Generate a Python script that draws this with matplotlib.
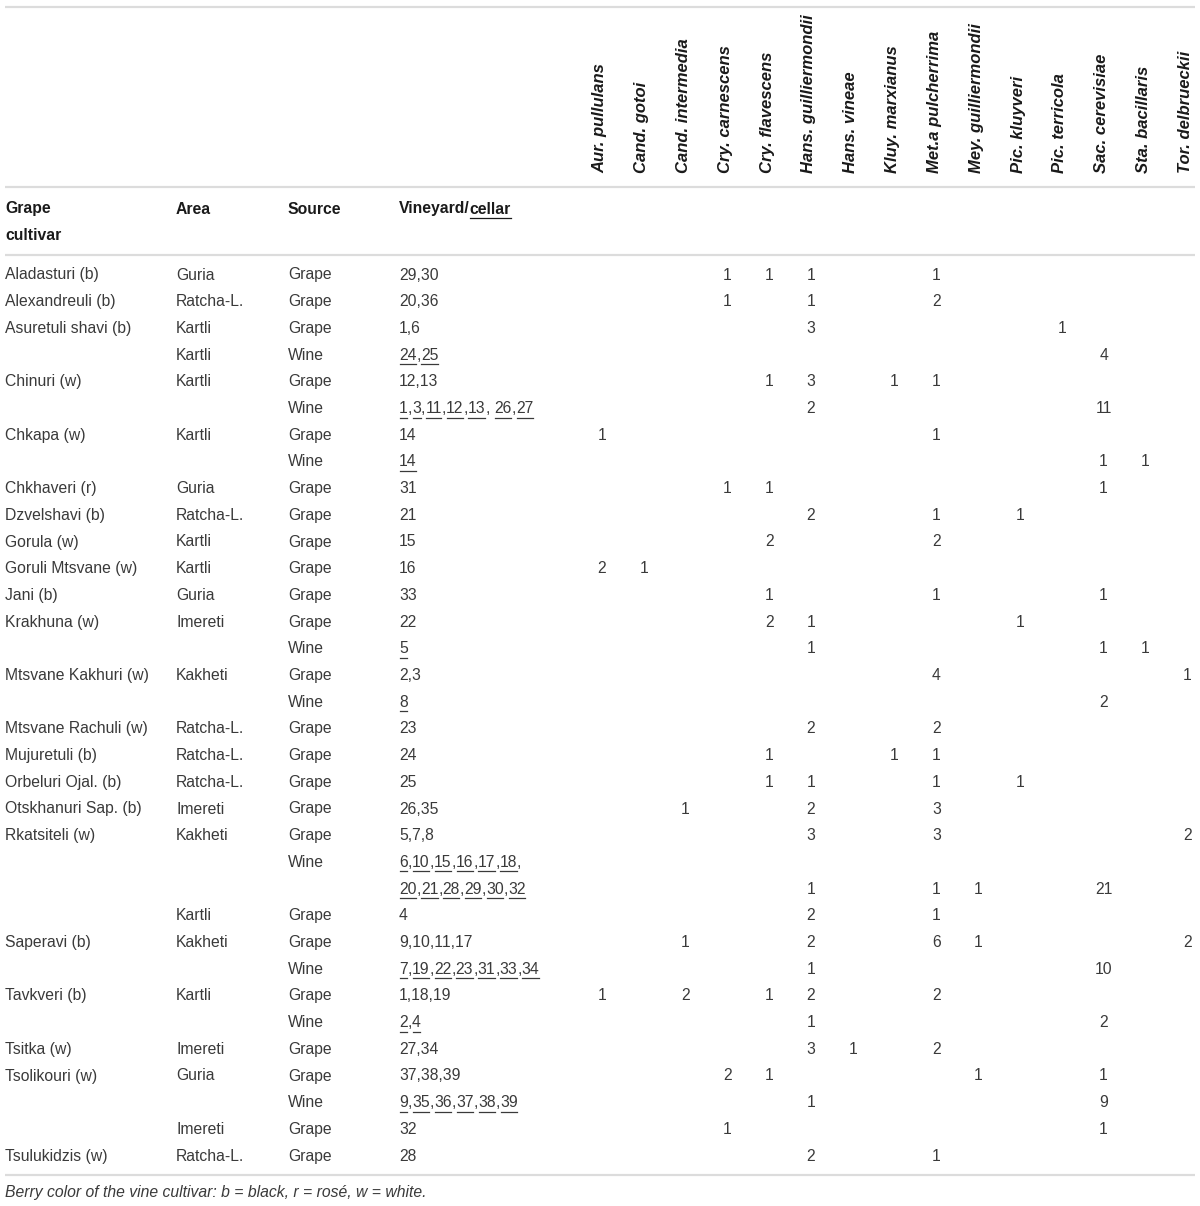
import re
import matplotlib
matplotlib.use("Agg")
import matplotlib.pyplot as plt

plt.rcParams['font.family'] = ['Liberation Sans', 'DejaVu Sans']

species = ["Aur. pullulans", "Cand. gotoi", "Cand. intermedia", "Cry. carnescens",
           "Cry. flavescens", "Hans. guilliermondii", "Hans. vineae", "Kluy. marxianus",
           "Met.a pulcherrima", "Mey. guilliermondii", "Pic. kluyveri", "Pic. terricola",
           "Sac. cerevisiae", "Sta. bacillaris", "Tor. delbrueckii"]

cultivar = ["Aladasturi (b)", "Alexandreuli (b)", "Asuretuli shavi (b)", "", "Chinuri (w)", "",
            "Chkapa (w)", "", "Chkhaveri (r)", "Dzvelshavi (b)", "Gorula (w)", "Goruli Mtsvane (w)",
            "Jani (b)", "Krakhuna (w)", "", "Mtsvane Kakhuri (w)", "", "Mtsvane Rachuli (w)",
            "Mujuretuli (b)", "Orbeluri Ojal. (b)", "Otskhanuri Sap. (b)", "Rkatsiteli (w)", "", "",
            "", "Saperavi (b)", "", "Tavkveri (b)", "", "Tsitka (w)", "Tsolikouri (w)", "", "",
            "Tsulukidzis (w)"]
area = ["Guria", "Ratcha-L.", "Kartli", "Kartli", "Kartli", "", "Kartli", "", "Guria",
        "Ratcha-L.", "Kartli", "Kartli", "Guria", "Imereti", "", "Kakheti", "", "Ratcha-L.",
        "Ratcha-L.", "Ratcha-L.", "Imereti", "Kakheti", "", "", "Kartli", "Kakheti", "",
        "Kartli", "", "Imereti", "Guria", "", "Imereti", "Ratcha-L."]
source = ["Grape", "Grape", "Grape", "Wine", "Grape", "Wine", "Grape", "Wine", "Grape", "Grape",
          "Grape", "Grape", "Grape", "Grape", "Wine", "Grape", "Wine", "Grape", "Grape", "Grape",
          "Grape", "Grape", "Wine", "", "Grape", "Grape", "Wine", "Grape", "Wine", "Grape",
          "Grape", "Wine", "Grape", "Grape"]
vineyard = ["29,30", "20,36", "1,6", "24,25", "12,13", "1,3,11,12,13, 26,27", "14", "14", "31",
            "21", "15", "16", "33", "22", "5", "2,3", "8", "23", "24", "25", "26,35", "5,7,8",
            "6,10,15,16,17,18,", "20,21,28,29,30,32", "4", "9,10,11,17", "7,19,22,23,31,33,34",
            "1,18,19", "2,4", "27,34", "37,38,39", "9,35,36,37,38,39", "32", "28"]
# cellar numbers (wine) are underlined
underlined = [s == "Wine" for s in source]
underlined[23] = True

counts = [
    [0, 0, 0, 1, 1, 1, 0, 0, 1, 0, 0, 0, 0, 0, 0],
    [0, 0, 0, 1, 0, 1, 0, 0, 2, 0, 0, 0, 0, 0, 0],
    [0, 0, 0, 0, 0, 3, 0, 0, 0, 0, 0, 1, 0, 0, 0],
    [0, 0, 0, 0, 0, 0, 0, 0, 0, 0, 0, 0, 4, 0, 0],
    [0, 0, 0, 0, 1, 3, 0, 1, 1, 0, 0, 0, 0, 0, 0],
    [0, 0, 0, 0, 0, 2, 0, 0, 0, 0, 0, 0, 11, 0, 0],
    [1, 0, 0, 0, 0, 0, 0, 0, 1, 0, 0, 0, 0, 0, 0],
    [0, 0, 0, 0, 0, 0, 0, 0, 0, 0, 0, 0, 1, 1, 0],
    [0, 0, 0, 1, 1, 0, 0, 0, 0, 0, 0, 0, 1, 0, 0],
    [0, 0, 0, 0, 0, 2, 0, 0, 1, 0, 1, 0, 0, 0, 0],
    [0, 0, 0, 0, 2, 0, 0, 0, 2, 0, 0, 0, 0, 0, 0],
    [2, 1, 0, 0, 0, 0, 0, 0, 0, 0, 0, 0, 0, 0, 0],
    [0, 0, 0, 0, 1, 0, 0, 0, 1, 0, 0, 0, 1, 0, 0],
    [0, 0, 0, 0, 2, 1, 0, 0, 0, 0, 1, 0, 0, 0, 0],
    [0, 0, 0, 0, 0, 1, 0, 0, 0, 0, 0, 0, 1, 1, 0],
    [0, 0, 0, 0, 0, 0, 0, 0, 4, 0, 0, 0, 0, 0, 1],
    [0, 0, 0, 0, 0, 0, 0, 0, 0, 0, 0, 0, 2, 0, 0],
    [0, 0, 0, 0, 0, 2, 0, 0, 2, 0, 0, 0, 0, 0, 0],
    [0, 0, 0, 0, 1, 0, 0, 1, 1, 0, 0, 0, 0, 0, 0],
    [0, 0, 0, 0, 1, 1, 0, 0, 1, 0, 1, 0, 0, 0, 0],
    [0, 0, 1, 0, 0, 2, 0, 0, 3, 0, 0, 0, 0, 0, 0],
    [0, 0, 0, 0, 0, 3, 0, 0, 3, 0, 0, 0, 0, 0, 2],
    [0, 0, 0, 0, 0, 0, 0, 0, 0, 0, 0, 0, 0, 0, 0],
    [0, 0, 0, 0, 0, 1, 0, 0, 1, 1, 0, 0, 21, 0, 0],
    [0, 0, 0, 0, 0, 2, 0, 0, 1, 0, 0, 0, 0, 0, 0],
    [0, 0, 1, 0, 0, 2, 0, 0, 6, 1, 0, 0, 0, 0, 2],
    [0, 0, 0, 0, 0, 1, 0, 0, 0, 0, 0, 0, 10, 0, 0],
    [1, 0, 2, 0, 1, 2, 0, 0, 2, 0, 0, 0, 0, 0, 0],
    [0, 0, 0, 0, 0, 1, 0, 0, 0, 0, 0, 0, 2, 0, 0],
    [0, 0, 0, 0, 0, 3, 1, 0, 2, 0, 0, 0, 0, 0, 0],
    [0, 0, 0, 2, 1, 0, 0, 0, 0, 1, 0, 0, 1, 0, 0],
    [0, 0, 0, 0, 0, 1, 0, 0, 0, 0, 0, 0, 9, 0, 0],
    [0, 0, 0, 1, 0, 0, 0, 0, 0, 0, 0, 0, 1, 0, 0],
    [0, 0, 0, 0, 0, 2, 0, 0, 1, 0, 0, 0, 0, 0, 0],
]

caption = "Berry color of the vine cultivar: b = black, r = rosé, w = white."

W, H = 1200, 1206
fig = plt.figure(figsize=(W / 100, H / 100), dpi=100)
ax = fig.add_axes([0, 0, 1, 1])
ax.set_xlim(0, W)
ax.set_ylim(H, 0)
ax.axis('off')

fs = 11.3
fs_head = 12
body = '#3a3a3a'
head = '#1a1a1a'
rule = '#dcdcdc'

col_x = [5, 176, 288, 399]
sp_x0, sp_dx = 602, 41.8
row_y0, row_dy = 275, 26.7

for y in [7, 187, 255, 1175]:
    ax.plot([5, 1195], [y, y], color=rule, lw=1.6, solid_capstyle='butt')

# header
ax.text(col_x[0], 209, "Grape", fontsize=fs, fontweight='bold', color=head, va='center')
ax.text(col_x[0], 235, "cultivar", fontsize=fs, fontweight='bold', color=head, va='center')
ax.text(col_x[1], 209, "Area", fontsize=fs, fontweight='bold', color=head, va='center')
ax.text(col_x[2], 209, "Source", fontsize=fs, fontweight='bold', color=head, va='center')

renderer = fig.canvas.get_renderer()
inv = ax.transData.inverted()


def width_of(t):
    bb = t.get_window_extent(renderer=renderer)
    (x0, _), (x1, _) = inv.transform([[bb.x0, bb.y0], [bb.x1, bb.y1]])
    return x1 - x0


def draw_pieces(x, y, pieces, **kw):
    for txt, ul in pieces:
        t = ax.text(x, y, txt, va='center', **kw)
        w = width_of(t)
        if ul:
            ax.plot([x + 0.5, x + w - 0.5], [y + 9, y + 9], color=kw.get('color', body), lw=0.9)
        x += w


draw_pieces(col_x[3], 209, [("Vineyard/", False), ("cellar", True)],
            fontsize=fs, fontweight='bold', color=head)

for i, name in enumerate(species):
    ax.text(sp_x0 + sp_dx * i - 2, 173, name, rotation=90, ha='center', va='bottom',
            fontsize=fs_head, fontweight='bold', fontstyle='italic', color=head)

for r in range(len(cultivar)):
    y = row_y0 + row_dy * r
    ax.text(col_x[0], y, cultivar[r], fontsize=fs, color=body, va='center')
    ax.text(col_x[1], y, area[r], fontsize=fs, color=body, va='center')
    ax.text(col_x[2], y, source[r], fontsize=fs, color=body, va='center')
    if underlined[r]:
        pieces = [(tok, tok.isdigit()) for tok in re.findall(r"\d+|[^\d]+", vineyard[r])]
        draw_pieces(col_x[3], y, pieces, fontsize=fs, color=body)
    else:
        ax.text(col_x[3], y, vineyard[r], fontsize=fs, color=body, va='center')
    for i, v in enumerate(counts[r]):
        if v:
            ax.text(sp_x0 + sp_dx * i, y, str(v), fontsize=fs, color=body,
                    ha='center', va='center')

ax.text(5, 1192, caption, fontsize=fs, fontstyle='italic', color=body, va='center')

fig.savefig("out.png", dpi=100)
